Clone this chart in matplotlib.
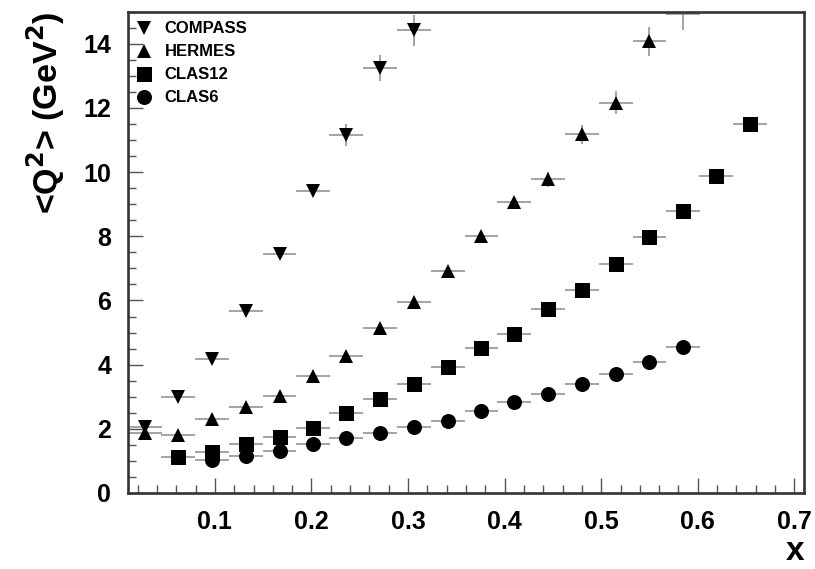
import matplotlib
matplotlib.use("Agg")
import matplotlib.pyplot as plt
from matplotlib.ticker import MultipleLocator, FixedLocator
from matplotlib.lines import Line2D
import numpy as np

plt.rcParams['font.family'] = ['Liberation Sans', 'DejaVu Sans']
plt.rcParams['font.weight'] = 'bold'

# ---- data ----
bin_halfwidth = 0.0175

compass_x = [0.028, 0.062, 0.097, 0.132, 0.167, 0.202, 0.236, 0.271, 0.306]
compass_y = [2.06, 2.99, 4.17, 5.67, 7.45, 9.42, 11.15, 13.25, 14.42]
compass_err = [0.04, 0.05, 0.07, 0.09, 0.12, 0.2, 0.34, 0.4, 0.48]

hermes_x = [0.028, 0.062, 0.097, 0.132, 0.167, 0.202, 0.236, 0.271, 0.306,
            0.341, 0.376, 0.41, 0.445, 0.48, 0.515, 0.55, 0.585]
hermes_y = [1.87, 1.80, 2.30, 2.68, 3.02, 3.64, 4.27, 5.14, 5.95,
            6.92, 8.00, 9.06, 9.78, 11.18, 12.17, 14.08, 14.92]
hermes_err = [0.03, 0.03, 0.04, 0.04, 0.05, 0.05, 0.06, 0.07, 0.08,
              0.1, 0.12, 0.15, 0.23, 0.3, 0.37, 0.45, 0.5]

clas12_x = [0.062, 0.097, 0.132, 0.167, 0.202, 0.236, 0.271, 0.306, 0.341,
            0.376, 0.41, 0.445, 0.48, 0.515, 0.55, 0.585, 0.619, 0.654]
clas12_y = [1.12, 1.28, 1.53, 1.75, 2.04, 2.49, 2.93, 3.40, 3.93,
            4.52, 4.95, 5.72, 6.32, 7.13, 7.97, 8.78, 9.88, 11.50]
clas12_err = [0.02] * 18

clas6_x = [0.097, 0.132, 0.167, 0.202, 0.236, 0.271, 0.306, 0.341,
           0.376, 0.41, 0.445, 0.48, 0.515, 0.55, 0.585]
clas6_y = [1.03, 1.15, 1.31, 1.53, 1.71, 1.88, 2.06, 2.24,
           2.56, 2.84, 3.10, 3.40, 3.70, 4.09, 4.54]
clas6_err = [0.02] * 15

series = [
    ("COMPASS", compass_x, compass_y, compass_err, 'v', 10.5),
    ("HERMES", hermes_x, hermes_y, hermes_err, '^', 10.5),
    ("CLAS12", clas12_x, clas12_y, clas12_err, 's', 10.8),
    ("CLAS6", clas6_x, clas6_y, clas6_err, 'o', 10.8),
]

x_ticks = [0.1, 0.2, 0.3, 0.4, 0.5, 0.6, 0.7]
y_ticks = [0, 2, 4, 6, 8, 10, 12, 14]

fig = plt.figure(figsize=(8.15, 5.69), dpi=100)
ax = fig.add_axes([0.157, 0.1336, 0.8295, 0.8458])

ecol = '#8a8a8a'
handles = []
for name, xs, ys, es, mk, ms in series:
    xs = np.asarray(xs); ys = np.asarray(ys); es = np.asarray(es)
    ax.errorbar(xs, ys, xerr=bin_halfwidth, yerr=es, fmt='none',
                ecolor=ecol, elinewidth=1.1, capsize=0, zorder=2)
    vis = ys < 14.8  # marker of the point touching the frame top is not drawn
    ax.plot(xs[vis], ys[vis], linestyle='none', marker=mk, markersize=ms,
            color='black', markeredgewidth=0, zorder=3)
    handles.append(Line2D([], [], linestyle='none', marker=mk, markersize=ms,
                          color='black', markeredgewidth=0))

ax.set_xlim(0.01, 0.71)
ax.set_ylim(0, 15)

ax.xaxis.set_major_locator(FixedLocator(x_ticks))
ax.xaxis.set_minor_locator(MultipleLocator(0.02))
ax.yaxis.set_major_locator(FixedLocator(y_ticks))
ax.yaxis.set_minor_locator(MultipleLocator(0.5))

ax.tick_params(which='both', direction='in', top=False, right=False,
               color='#555555', width=1.0)
ax.tick_params(which='major', length=11, labelsize=18, pad=12)
ax.tick_params(which='minor', length=5.5)
ax.set_xticklabels([f"{t:.1f}" for t in x_ticks], fontweight='bold')
ax.set_yticklabels([str(t) for t in y_ticks], fontweight='bold')

for sp in ax.spines.values():
    sp.set_linewidth(1.9)
    sp.set_color('#333333')

ax.set_ylabel(r"<Q$^{\mathbf{2}}$> (GeV$^{\mathbf{2}}$)", fontsize=24.5,
              fontweight='bold', loc='top', labelpad=12)
ax.set_xlabel("x", fontsize=24, fontweight='bold', loc='right', labelpad=2)

leg = ax.legend(handles, [s[0] for s in series], loc='upper left',
                bbox_to_anchor=(0.012, 0.98), frameon=False,
                prop={'family': 'Liberation Sans', 'weight': 'bold', 'size': 12},
                handlelength=1.0, handletextpad=0.7, labelspacing=0.48,
                borderpad=0, borderaxespad=0)

fig.savefig("out.png", dpi=100)
